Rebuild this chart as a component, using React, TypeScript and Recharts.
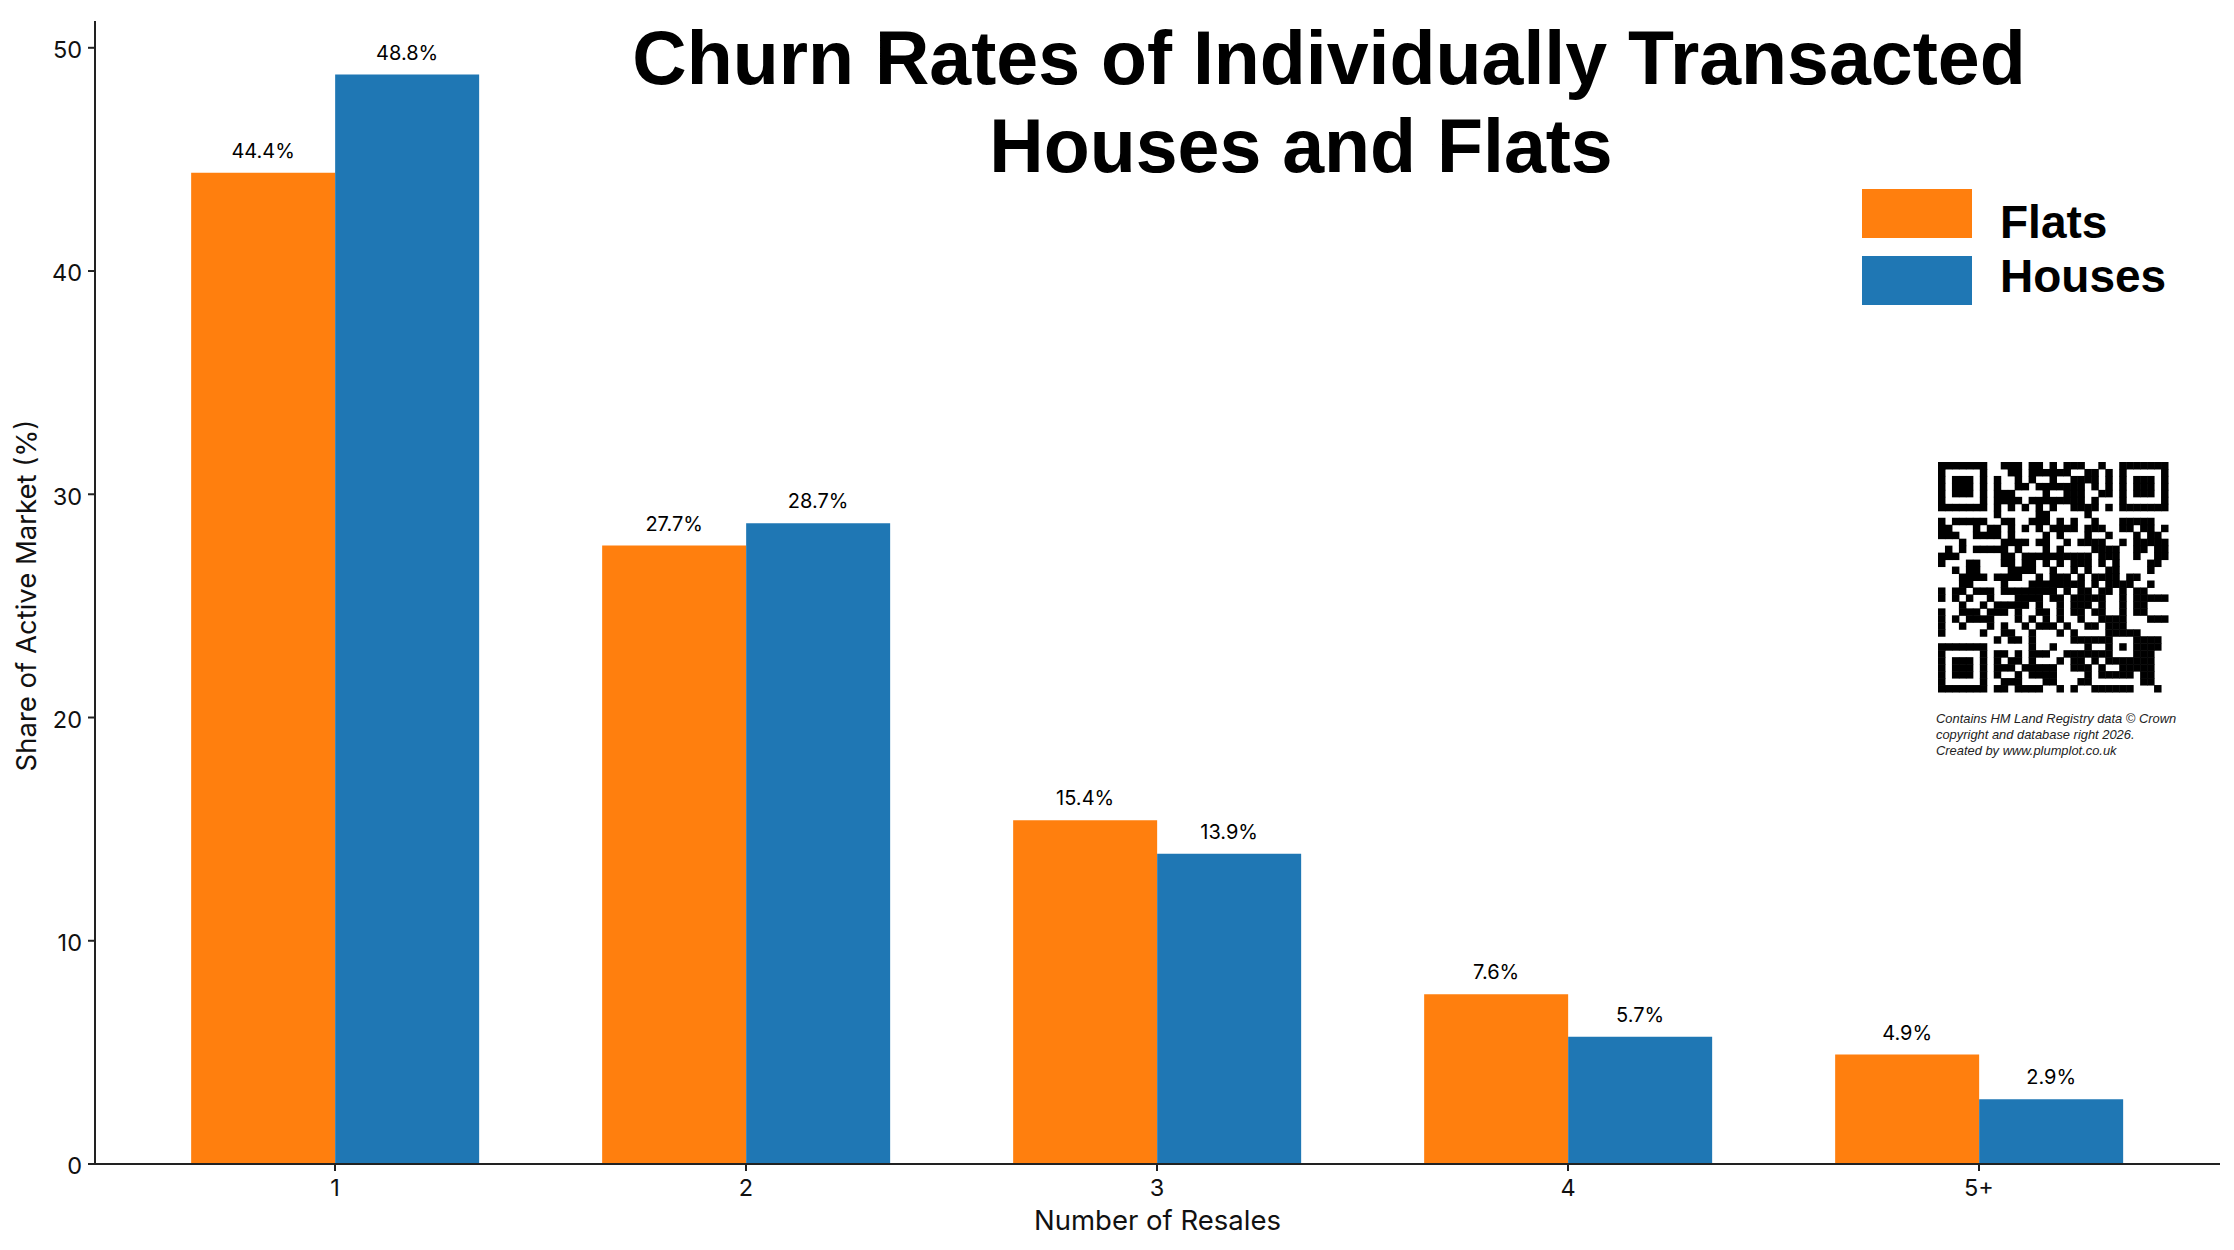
import {
  Bar,
  BarChart,
  LabelList,
  Legend,
  XAxis,
  YAxis,
} from "recharts";

const categories = ["1", "2", "3", "4", "5+"];
const flats = [44.4, 27.7, 15.4, 7.6, 4.9];
const houses = [48.8, 28.7, 13.9, 5.7, 2.9];
const yTicks = [0, 10, 20, 30, 40, 50];

const qrRows = [
  "#######..###.##.#.###..#..#######",
  "#.....#...##.######..##.#.#.....#",
  "#.###.#.#..#.#..#..####.#.#.###.#",
  "#.###.#.#..##.#######.#.#.#.###.#",
  "#.###.#.###....#..###..##.#.###.#",
  "#.....#.####.########.#...#.....#",
  "#######.#.#.#.#.#..####.#.#######",
  "........#.....##.....#...........",
  "#.#####..##..###.#.#..#...#####..",
  "##...#.##.#.#.#.####.###..##.##.#",
  "###..####.#....#.#...#..#...#.##.",
  "...#.....####.##..#.####..#.#####",
  ".#.#.#####.#...#.#....####..##.##",
  "###......##.##########.###..#..##",
  "#...##...##.##.#.#.###.#.#....##.",
  "..#.##....####..#..#.#..##....#..",
  "...####.####..#.###.#.####.##....",
  "...##....#...########.#.####..#..",
  "#.##.###.########.#.##.##.#.##...",
  "#.#.#..#...####.##.#####..#.#####",
  "...#..#.#####.#..#.###.#..#.##...",
  "#..###.###.#..##.#.##.##..#.##...",
  "#.#.####...#.#.#.#..#..####...###",
  "#..#...#.#..#.###.#..##.###......",
  "#.....#..##..#...#.#....#####....",
  "........#.##.#.....######...####.",
  "#######......#..#....#..#.#.####.",
  "#.....#.##.#.###..#######...###..",
  "#.###.#.#.##.#...#.##.#.#######..",
  "#.###.#.###.#####..###.#..#####..",
  "#.###.#.#..#.####....#.#####.##..",
  "#.....#..###...##...##.......##..",
  "#######.##.####..#.#..######...#.",
];

const creditLines = [
  "Contains HM Land Registry data © Crown",
  "copyright and database right 2026.",
  "Created by www.plumplot.co.uk",
];

const chartData = categories.map((name, i) => ({
  name,
  Flats: flats[i],
  Houses: houses[i],
}));

const FONT = "Inter, sans-serif";
const TITLE_FONT = "'Liberation Sans', Arial, sans-serif";
const ORANGE = "#ff7f0e";
const BLUE = "#1f77b4";

function SeriesKey() {
  const items = [
    { label: "Flats", color: ORANGE },
    { label: "Houses", color: BLUE },
  ];
  return (
    <div style={{ fontFamily: TITLE_FONT, fontWeight: 700, fontSize: 46, color: "#000" }}>
      {items.map((item, i) => (
        <div key={item.label} style={{ position: "relative", height: 67 }}>
          <div
            style={{
              position: "absolute",
              left: 0,
              top: 0,
              width: 110,
              height: 49,
              background: item.color,
            }}
          />
          <div
            style={{
              position: "absolute",
              left: 138,
              top: i === 0 ? 7 : -6,
              lineHeight: "52px",
            }}
          >
            {item.label}
          </div>
        </div>
      ))}
    </div>
  );
}

function Decorations() {
  const cell = 6.97;
  return (
    <svg
      width={2234}
      height={1250}
      style={{ position: "absolute", left: 0, top: 0, pointerEvents: "none" }}
    >
      <g fontFamily={TITLE_FONT} fontWeight={700} fontSize={75.3} fill="#000" textAnchor="middle">
        <text x={1329} y={84}>Churn Rates of Individually Transacted</text>
        <text x={1301} y={172}>Houses and Flats</text>
      </g>
      <g transform="translate(1938 462)">
        {qrRows.map((row, r) =>
          row.split("").map((c, col) =>
            c === "#" ? (
              <rect
                key={`${r}-${col}`}
                x={col * cell}
                y={r * cell}
                width={cell + 0.5}
                height={cell + 0.5}
                fill="#000"
              />
            ) : null,
          ),
        )}
      </g>
      <g fontFamily={TITLE_FONT} fontStyle="italic" fontSize={12.9} fill="#222">
        {creditLines.map((line, i) => (
          <text key={line} x={1936} y={723 + i * 16}>
            {line}
          </text>
        ))}
      </g>
    </svg>
  );
}

export default function App() {
  const tick = { fill: "#111", fontSize: 23.5, fontFamily: FONT };
  const axisLine = { stroke: "#222", strokeWidth: 2 };
  const tickLine = { stroke: "#222", strokeWidth: 2 };
  const labelStyle = { fill: "#000", fontSize: 20, fontFamily: FONT };

  return (
    <div
      style={{
        position: "absolute",
        left: 0,
        top: 0,
        width: 2234,
        height: 1250,
        background: "#fff",
        overflow: "hidden",
      }}
    >
      <BarChart
        width={2234}
        height={1250}
        data={chartData}
        margin={{ top: 21, right: 14, bottom: 0, left: 0 }}
        barCategoryGap="15%"
        barGap={0}
      >
        <XAxis
          dataKey="name"
          padding={{ left: 34.5, right: 35.5 }}
          height={86}
          tick={tick}
          axisLine={axisLine}
          tickLine={tickLine}
          tickSize={7}
          tickMargin={8}
          interval={0}
          label={{
            value: "Number of Resales",
            position: "insideBottom",
            offset: 20,
            fill: "#111",
            fontSize: 27.5,
            fontFamily: FONT,
          }}
        />
        <YAxis
          width={95}
          domain={[0, 51.2]}
          ticks={yTicks}
          tick={{ ...tick, dy: 2 }}
          axisLine={axisLine}
          tickLine={tickLine}
          tickSize={7}
          tickMargin={6}
          label={{
            value: "Share of Active Market (%)",
            angle: -90,
            position: "insideLeft",
            offset: 0,
            dx: 26,
            dy: 3,
            textAnchor: "middle",
            fill: "#111",
            fontSize: 27.5,
            fontFamily: FONT,
          }}
        />
        <Legend
          layout="vertical"
          align="center"
          verticalAlign="middle"
          wrapperStyle={{ left: 1862, top: 189, width: 372, bottom: "auto", right: "auto" }}
          content={() => <SeriesKey />}
        />
        <Bar dataKey="Flats" fill={ORANGE} isAnimationActive={false}>
          <LabelList
            dataKey="Flats"
            position="top"
            offset={15}
            formatter={(v: number) => `${v.toFixed(1)}%`}
            style={labelStyle}
          />
        </Bar>
        <Bar dataKey="Houses" fill={BLUE} isAnimationActive={false}>
          <LabelList
            dataKey="Houses"
            position="top"
            offset={15}
            formatter={(v: number) => `${v.toFixed(1)}%`}
            style={labelStyle}
          />
        </Bar>
      </BarChart>
      <Decorations />
    </div>
  );
}
